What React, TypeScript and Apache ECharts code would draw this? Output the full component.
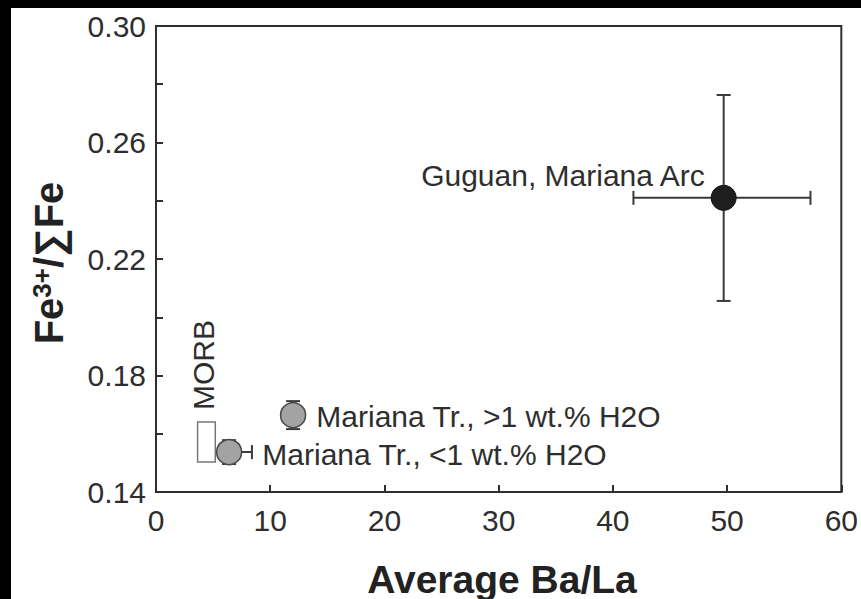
import { useEffect, useRef } from "react";
import * as echarts from "echarts";

// sample labels and values
const pointNames = [
  "Guguan, Mariana Arc",
  "Mariana Tr., >1 wt.% H2O",
  "Mariana Tr., <1 wt.% H2O",
];
const baLa = [49.7, 12.0, 6.4];
const fe3 = [0.241, 0.1664, 0.1537];
const baLaLow = [41.8, 12.0, 5.6];
const baLaHigh = [57.3, 12.0, 8.4];
const fe3Low = [0.2056, 0.1616, 0.1496];
const fe3High = [0.2763, 0.1712, 0.1578];

// MORB field (box)
const morbBaLa = [3.64, 5.19];
const morbFe3 = [0.1503, 0.164];

const xTicks = [0, 60, 10];
const yTicks = [0.14, 0.3, 0.04];

const FONT = "'Liberation Sans', Arial, Helvetica, sans-serif";
const INK = "#2e2e2e";

export default function App() {
  const chartRef = useRef<HTMLDivElement>(null);

  useEffect(() => {
    if (!chartRef.current) return;
    const chart = echarts.init(chartRef.current, null, { renderer: "svg" });

    const errData = baLa.map((x, i) => [
      x,
      fe3[i],
      baLaLow[i],
      baLaHigh[i],
      fe3Low[i],
      fe3High[i],
    ]);

    const pointStyles = [
      { color: "#1e1e1e", borderColor: "#111", borderWidth: 1, opacity: 1 },
      { color: "#a3a3a3", borderColor: "#4a4a4a", borderWidth: 1.5, opacity: 1 },
      { color: "#a3a3a3", borderColor: "#4a4a4a", borderWidth: 1.5, opacity: 1 },
    ];
    const labelPos = [
      { position: "left", distance: 6, offset: [0, -22] },
      { position: "right", distance: 10, offset: [0, 1] },
      { position: "right", distance: 20, offset: [0, 2] },
    ];

    const option: echarts.EChartsOption = {
      animation: false,
      backgroundColor: "#fff",
      grid: {
        left: 145,
        top: 18,
        right: 12,
        bottom: 107,
        show: true,
        borderColor: INK,
        borderWidth: 2,
      },
      xAxis: {
        type: "value",
        min: xTicks[0],
        max: xTicks[1],
        interval: xTicks[2],
        axisLine: { lineStyle: { color: INK, width: 2 } },
        axisTick: { inside: true, length: 7, lineStyle: { color: INK, width: 2 } },
        axisLabel: { color: INK, fontSize: 30, fontFamily: FONT, margin: 13 },
        splitLine: { show: false },
      },
      yAxis: {
        type: "value",
        min: yTicks[0],
        max: yTicks[1],
        interval: yTicks[2],
        axisLine: { show: true, lineStyle: { color: INK, width: 2 } },
        axisTick: { show: true, inside: true, length: 7, lineStyle: { color: INK, width: 2 } },
        minorTick: { show: true, splitNumber: 2, length: 7, lineStyle: { color: INK, width: 2 } },
        axisLabel: {
          color: INK,
          fontSize: 30,
          fontFamily: FONT,
          margin: 10,
          formatter: (v: number) => v.toFixed(2),
        },
        splitLine: { show: false },
      },
      graphic: [
        {
          type: "text",
          x: 491,
          y: 571,
          style: {
            text: "Average Ba/La",
            fill: "#222",
            font: `bold 39px ${FONT}`,
            align: "center",
            verticalAlign: "middle",
          },
        },
        {
          type: "text",
          x: 38,
          y: 255,
          rotation: Math.PI / 2,
          style: {
            text: "{b|Fe}{s|3+}{b|/∑Fe}",
            fill: "#222",
            align: "center",
            verticalAlign: "middle",
            rich: {
              b: { fontSize: 40, fontWeight: "bold", fontFamily: FONT, fill: "#222" },
              s: {
                fontSize: 26,
                fontWeight: "bold",
                fontFamily: FONT,
                fill: "#222",
                verticalAlign: "top",
              },
            },
          } as any,
        },
      ],
      series: [
        {
          type: "custom",
          name: "MORB",
          z: 2,
          data: [[morbBaLa[0], morbFe3[0], morbBaLa[1], morbFe3[1]]],
          // eslint-disable-next-line @typescript-eslint/no-explicit-any
          renderItem: (_params: any, api: any) => {
            const p0 = api.coord([api.value(0), api.value(1)]);
            const p1 = api.coord([api.value(2), api.value(3)]);
            const cx = (p0[0] + p1[0]) / 2;
            return {
              type: "group",
              children: [
                {
                  type: "rect",
                  shape: {
                    x: p0[0],
                    y: p1[1],
                    width: p1[0] - p0[0],
                    height: p0[1] - p1[1],
                  },
                  style: { fill: "#fff", stroke: "#777", lineWidth: 1.5 },
                },
                {
                  type: "text",
                  x: cx - 3,
                  y: p1[1] - 12,
                  rotation: Math.PI / 2,
                  style: {
                    text: "MORB",
                    fill: INK,
                    fontSize: 30,
                    fontFamily: FONT,
                    align: "left",
                    verticalAlign: "middle",
                  },
                },
              ],
            };
          },
        },
        {
          type: "custom",
          name: "error bars",
          z: 3,
          data: errData,
          // eslint-disable-next-line @typescript-eslint/no-explicit-any
          renderItem: (_params: any, api: any) => {
            const x = api.value(0);
            const y = api.value(1);
            const xl = api.coord([api.value(2), y]);
            const xh = api.coord([api.value(3), y]);
            const yl = api.coord([x, api.value(4)]);
            const yh = api.coord([x, api.value(5)]);
            const cap = 7;
            const st = { stroke: "#3a3a3a", lineWidth: 2 };
            const kids: any[] = [];
            if (xh[0] - xl[0] > 1) {
              kids.push(
                { type: "line", shape: { x1: xl[0], y1: xl[1], x2: xh[0], y2: xh[1] }, style: st },
                { type: "line", shape: { x1: xl[0], y1: xl[1] - cap, x2: xl[0], y2: xl[1] + cap }, style: st },
                { type: "line", shape: { x1: xh[0], y1: xh[1] - cap, x2: xh[0], y2: xh[1] + cap }, style: st }
              );
            }
            if (yl[1] - yh[1] > 1) {
              kids.push(
                { type: "line", shape: { x1: yl[0], y1: yl[1], x2: yh[0], y2: yh[1] }, style: st },
                { type: "line", shape: { x1: yl[0] - cap, y1: yl[1], x2: yl[0] + cap, y2: yl[1] }, style: st },
                { type: "line", shape: { x1: yh[0] - cap, y1: yh[1], x2: yh[0] + cap, y2: yh[1] }, style: st }
              );
            }
            return { type: "group", children: kids };
          },
        },
        {
          type: "scatter",
          z: 4,
          symbol: "circle",
          symbolSize: 25,
          itemStyle: { opacity: 1 },
          data: baLa.map((x, i) => ({
            name: pointNames[i],
            value: [x, fe3[i]],
            itemStyle: pointStyles[i],
            label: {
              show: true,
              formatter: pointNames[i],
              color: INK,
              fontSize: 30,
              fontFamily: FONT,
              ...labelPos[i],
            },
          })) as any,
        },
      ],
    };

    chart.setOption(option);
    return () => chart.dispose();
  }, []);

  return (
    <div style={{ position: "fixed", left: 0, top: 0, width: 861, height: 599, background: "#000", overflow: "hidden" }}>
      <div
        ref={chartRef}
        style={{ position: "absolute", left: 11, top: 8, width: 850, height: 591, background: "#fff" }}
      />
    </div>
  );
}
